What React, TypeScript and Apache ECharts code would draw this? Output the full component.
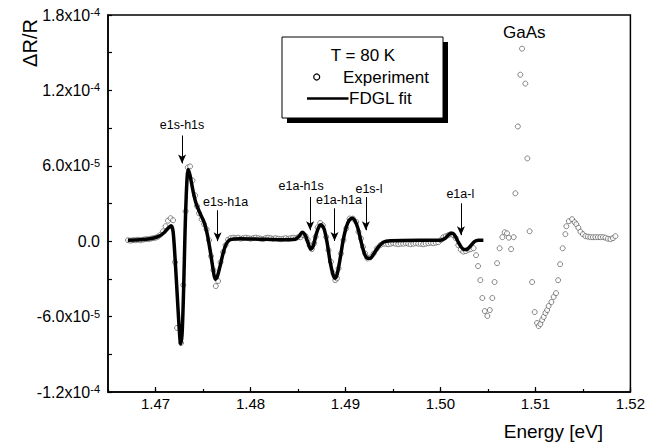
import React, { useEffect, useRef } from "react";
import * as echarts from "echarts";

// Experiment (open circles): photon energy [eV] and ΔR/R in units of 1e-5
const expEnergy = [
  1.46711, 1.46737, 1.46763, 1.4679, 1.46816, 1.46842, 1.46869, 1.46895, 1.46921, 1.46948, 1.46974, 1.47001, 1.47027, 1.47053, 1.4708, 1.47106, 1.47132, 1.47159, 1.47185, 1.47206, 1.47227, 1.47269, 1.47293, 1.47317, 1.4734, 1.47364, 1.4739, 1.47417, 1.47438, 1.47459, 1.47485, 1.47512, 1.47538, 1.47564, 1.47585, 1.4761, 1.47635, 1.47659, 1.47685, 1.47712, 1.47738, 1.47764, 1.47791, 1.47817,
  1.47843, 1.4787, 1.47896, 1.47922, 1.47949, 1.47975, 1.48001, 1.48028, 1.48054, 1.4808, 1.48107, 1.48133, 1.4816, 1.48186, 1.48212, 1.48239, 1.48265, 1.48291, 1.48318, 1.48344, 1.4837, 1.48397, 1.48423, 1.48449, 1.48476, 1.48502,
  1.48528, 1.48555, 1.48581, 1.48602, 1.48623, 1.48646, 1.48671, 1.48686, 1.48708, 1.48734, 1.48762, 1.48797, 1.48821, 1.48847, 1.48874, 1.48892, 1.4891, 1.48927, 1.48952, 1.48979, 1.49008, 1.49043, 1.49078, 1.49113, 1.49137, 1.49163, 1.49184, 1.49208, 1.49232, 1.49261, 1.49296, 1.49331, 1.49366, 1.49398,
  1.49424, 1.4945, 1.49477, 1.49503, 1.49529, 1.49556, 1.49582, 1.49608, 1.49635, 1.49661, 1.49687, 1.49714, 1.4974, 1.49766, 1.49793, 1.49819, 1.49845, 1.49872, 1.49898, 1.49924, 1.49951, 1.49977,
  1.50003, 1.5003, 1.50056, 1.50082, 1.50109, 1.50135, 1.50161, 1.50188, 1.50214, 1.5024, 1.50267, 1.50293, 1.50319,
  1.50349, 1.50375, 1.50396, 1.5042, 1.50441, 1.50467, 1.50494, 1.5052, 1.50546, 1.5057, 1.50596, 1.50623, 1.50652, 1.50676, 1.50701, 1.5072, 1.50744, 1.50771, 1.50789, 1.50815, 1.50841, 1.50859, 1.50894, 1.50915, 1.50939, 1.50965, 1.50992, 1.51017, 1.51034, 1.51052, 1.5107, 1.51087, 1.51105, 1.51123, 1.51139, 1.51168, 1.51192, 1.51217, 1.51239, 1.5126, 1.51287, 1.51315, 1.51326, 1.51352, 1.51386, 1.51413, 1.51431, 1.51452, 1.51474, 1.515, 1.51526, 1.51553, 1.51579, 1.51605, 1.51632, 1.51658, 1.51684, 1.51711, 1.51737, 1.51763, 1.5179, 1.51816, 1.51842,
];
const expSignal = [
  0.08, 0.04, 0.08, 0.08, 0.12, 0.08, 0.12, 0.16, 0.16, 0.2, 0.24, 0.28, 0.36, 0.52, 0.79, 1.19, 1.63, 1.83, 1.67, -1.67, -6.9, -8.1, -3.49, 2.38, 5.87, 5.95, 4.84, 3.65, 2.78, 2.22, 1.75, 1.35, 0.95, 0.08, -1.19, -2.3, -3.57, -3.17, -1.67, -0.87, -0.32, 0.12, 0.24, 0.28,
  0.24, 0.28, 0.2, 0.24, 0.28, 0.24, 0.2, 0.24, 0.28, 0.24, 0.2, 0.16, 0.24, 0.28, 0.24, 0.2, 0.24, 0.2, 0.16, 0.2, 0.24, 0.2, 0.24, 0.28, 0.24, 0.32,
  0.32, 0.48, 0.4, 0.12, -0.32, -0.63, -0.16, 0.36, 1.11, 1.45, 1.27, 0.34, -0.71, -1.64, -2.56, -3.1, -2.96, -2.17, -0.98, 0.08, 1.01, 1.8, 1.8, 1.53, 0.74, 0.21, -0.45, -0.98, -1.37, -1.29, -0.98, -0.58, -0.32, -0.2,
  -0.2, -0.24, -0.2, -0.16, -0.2, -0.24, -0.2, -0.2, -0.16, -0.2, -0.24, -0.2, -0.16, -0.2, -0.2, -0.24, -0.2, -0.16, -0.12, -0.16, -0.12, -0.08,
  0.08, 0.32, 0.4, 0.48, 0.56, 0.48, 0.24, -0.32, -0.67, -0.83, -0.79, -0.67, -0.63,
  -0.56, -1.11, -1.98, -3.1, -4.52, -5.56, -5.95, -5.48, -4.52, -3.25, -1.75, -0.56, 0.32, 0.71, 0.63, 0.28, -0.63, 0.32, 3.81, 9.13, 13.25, 15.32, 12.54, 6.59, 0.79, -3.25, -5.64, -6.51, -6.75, -6.59, -6.27, -6.03, -5.71, -5.48, -5.16, -4.84, -4.44, -4.13, -3.1, -1.83, -0.56, 0.56, 1.19, 1.59, 1.75, 1.51, 1.35, 1.07, 0.75, 0.56, 0.4, 0.36, 0.32, 0.32, 0.32, 0.32, 0.32, 0.32, 0.28, 0.2, 0.16, 0.24, 0.4,
];

// FDGL fit (thick line): energy [eV] and ΔR/R in units of 1e-5
const fitEnergy = [
  1.46711, 1.46837, 1.46943, 1.47027, 1.4709, 1.47132, 1.47164, 1.47185, 1.47206, 1.47227, 1.47248, 1.47264, 1.4728, 1.47296, 1.47311, 1.47327, 1.47343, 1.47364, 1.47396, 1.47427, 1.47469, 1.47512, 1.47543, 1.47575, 1.47606, 1.47628, 1.47649, 1.4768, 1.47712, 1.47743, 1.47786, 1.47891, 1.48102, 1.48312, 1.48471, 1.48513, 1.48544, 1.48576, 1.48607, 1.48634, 1.4866, 1.48692, 1.48723, 1.48744, 1.48776, 1.48808, 1.48839, 1.48871, 1.48892, 1.48913, 1.48945, 1.48976, 1.49008, 1.49039, 1.49071, 1.49103, 1.49134, 1.49166, 1.49198, 1.49229, 1.49261, 1.49303, 1.49345, 1.49398, 1.49472, 1.49788, 1.49998, 1.50051, 1.50093, 1.50125, 1.50156, 1.50188, 1.5022, 1.50251, 1.50283, 1.50314, 1.50357, 1.50399, 1.50452,
];
const fitSignal = [
  0.08, 0.12, 0.2, 0.36, 0.67, 1.03, 1.23, 0.79, -1.35, -4.05, -6.75, -8.17, -7.38, -3.89, 0.71, 4.21, 5.71, 5.24, 3.97, 3.02, 2.22, 1.51, 0.63, -0.71, -2.22, -3.02, -2.86, -1.98, -0.95, -0.24, 0.12, 0.2, 0.16, 0.12, 0.16, 0.4, 0.71, 0.48, -0.16, -0.63, -0.4, 0.56, 1.19, 1.31, 0.95, -0.16, -1.67, -2.7, -2.94, -2.62, -1.35, 0.08, 1.11, 1.67, 1.83, 1.59, 0.95, -0.08, -0.95, -1.35, -1.35, -0.95, -0.48, -0.08, 0.04, 0.08, 0.08, 0.24, 0.56, 0.63, 0.4, -0.08, -0.48, -0.67, -0.63, -0.4, -0.04, 0.08, 0.08,
];

// Axis ticks
const xLabelTicks = [1.47, 1.48, 1.49, 1.5, 1.51, 1.52];
const yLabelValues = [-12, -6, 0, 6, 12, 18];
const yLabelMantissa = ["-1.2x10", "-6.0x10", "0.0", "6.0x10", "1.2x10", "1.8x10"];
const yLabelExponent = ["-4", "-5", "", "-5", "-4", "-4"];

// Transition annotations
const annotLabels = ["e1s-h1s", "e1s-h1a", "e1a-h1s", "e1a-h1a", "e1s-l", "e1a-l"];
const annotArrowEnergy = [1.4728, 1.47654, 1.48628, 1.48885, 1.49215, 1.50216];
const annotArrowTop = [8.41, 2.46, 3.52, 2.62, 3.52, 3.02];
const annotArrowTip = [6.19, 0.0, 0.87, 0.02, 0.87, 0.48];
const annotTextEnergy = [1.4728, 1.47738, 1.48534, 1.48931, 1.49248, 1.50209];
const annotTextSignal = [9.21, 3.12, 4.39, 3.31, 4.18, 3.79];

const FONT = "'Liberation Sans', Arial, sans-serif";

export default function App() {
  const ref = useRef<HTMLDivElement>(null);

  useEffect(() => {
    if (!ref.current) return;
    const chart = echarts.init(ref.current, undefined, { renderer: "svg" });

    const expData = expEnergy
      .slice(0, Math.min(expEnergy.length, expSignal.length))
      .map((x, i) => [x, expSignal[i]]);
    const fitData = fitEnergy
      .slice(0, Math.min(fitEnergy.length, fitSignal.length))
      .map((x, i) => [x, fitSignal[i]]);

    const arrowLines = annotLabels.map((_, i) => [
      { coord: [annotArrowEnergy[i], annotArrowTop[i]] },
      { coord: [annotArrowEnergy[i], annotArrowTip[i]] },
    ]);
    const annotPoints: any[] = annotLabels.map((name, i) => ({
      name,
      coord: [annotTextEnergy[i], annotTextSignal[i]],
    }));
    annotPoints.push({
      name: "GaAs",
      coord: [1.50883, 16.6],
      label: { fontSize: 17 },
    });

    const yFormatter = (v: number) => {
      const i = yLabelValues.findIndex((t) => Math.abs(t - v) < 1e-6);
      if (i < 0) return "";
      return yLabelExponent[i]
        ? `{m|${yLabelMantissa[i]}}{e|${yLabelExponent[i]}}`
        : `{m|${yLabelMantissa[i]}}`;
    };
    const xFormatter = (v: number) => {
      const hit = xLabelTicks.find((t) => Math.abs(t - v) < 1e-7);
      return hit === undefined ? "" : hit.toFixed(2);
    };

    chart.setOption({
      animation: false,
      backgroundColor: "#fff",
      textStyle: { fontFamily: FONT },
      grid: {
        left: 108,
        right: 17,
        top: 15,
        bottom: 53,
        show: true,
        borderColor: "#000",
        borderWidth: 1.5,
        backgroundColor: "transparent",
      },
      xAxis: [
        {
          type: "value",
          min: 1.465,
          max: 1.52,
          interval: 0.005,
          axisLine: { show: true, onZero: false, lineStyle: { color: "#000", width: 1.5 } },
          axisTick: { show: true, inside: true, length: 3, lineStyle: { color: "#000", width: 1.2 } },
          axisLabel: {
            formatter: xFormatter,
            color: "#000",
            fontSize: 15,
            fontFamily: FONT,
            margin: 4,
            showMinLabel: true,
            showMaxLabel: true,
          },
          splitLine: { show: false },
        },
        {
          type: "value",
          min: 1.465,
          max: 1.52,
          position: "bottom",
          axisLine: { show: false, onZero: false },
          axisLabel: { show: false },
          axisTick: {
            show: true,
            inside: true,
            length: 5,
            customValues: xLabelTicks,
            lineStyle: { color: "#000", width: 1.2 },
          },
          splitLine: { show: false },
        },
      ],
      yAxis: {
        type: "value",
        min: -12,
        max: 18,
        interval: 3,
        axisLine: { show: true, onZero: false, lineStyle: { color: "#000", width: 1.5 } },
        axisTick: { show: true, inside: true, length: 4, lineStyle: { color: "#000", width: 1.2 } },
        axisLabel: {
          formatter: yFormatter,
          margin: 8,
          showMinLabel: true,
          showMaxLabel: true,
          rich: {
            m: { fontSize: 16, fontFamily: FONT, color: "#000", lineHeight: 17 },
            e: { fontSize: 11, fontFamily: FONT, color: "#000", verticalAlign: "top", lineHeight: 11 },
          },
        },
        splitLine: { show: false },
      },
      series: [
        {
          type: "scatter",
          data: expData,
          symbol: "circle",
          symbolSize: 5,
          itemStyle: { color: "#fff", borderColor: "#444", borderWidth: 0.8 },
          z: 2,
          silent: true,
        },
        {
          type: "line",
          data: fitData,
          showSymbol: false,
          smooth: 0.25,
          lineStyle: { color: "#000", width: 3.5 },
          z: 3,
          silent: true,
          markLine: {
            silent: true,
            symbol: ["none", "arrow"],
            symbolSize: [6, 9],
            label: { show: false },
            lineStyle: { color: "#000", width: 1, type: "solid" },
            data: arrowLines,
          },
          markPoint: {
            silent: true,
            symbol: "circle",
            symbolSize: 1,
            itemStyle: { color: "rgba(0,0,0,0)" },
            label: {
              show: true,
              position: "inside",
              formatter: "{b}",
              color: "#000",
              fontSize: 12.5,
              fontFamily: FONT,
            },
            data: annotPoints,
          },
        },
      ],
      graphic: [
        { type: "rect", shape: { x: 287, y: 42, width: 161, height: 81 }, style: { fill: "#000" } },
        {
          type: "rect",
          shape: { x: 282, y: 37, width: 161, height: 81 },
          style: { fill: "#fff", stroke: "#000", lineWidth: 1 },
        },
        {
          type: "text",
          x: 363,
          y: 55,
          style: { text: "T = 80 K", fontSize: 17, fontFamily: FONT, fill: "#000", align: "center", verticalAlign: "middle" },
        },
        {
          type: "circle",
          shape: { cx: 316.7, cy: 77, r: 3 },
          style: { fill: "#fff", stroke: "#000", lineWidth: 1.2 },
        },
        {
          type: "text",
          x: 343,
          y: 77,
          style: { text: "Experiment", fontSize: 17, fontFamily: FONT, fill: "#000", align: "left", verticalAlign: "middle" },
        },
        {
          type: "line",
          shape: { x1: 307, y1: 98.5, x2: 348.5, y2: 98.5 },
          style: { stroke: "#000", lineWidth: 2.5 },
        },
        {
          type: "text",
          x: 349,
          y: 98,
          style: { text: "FDGL fit", fontSize: 17, fontFamily: FONT, fill: "#000", align: "left", verticalAlign: "middle" },
        },
        {
          type: "text",
          x: 603,
          y: 431,
          style: { text: "Energy [eV]", fontSize: 19, fontFamily: FONT, fill: "#000", align: "right", verticalAlign: "middle" },
        },
        {
          type: "text",
          x: 30,
          y: 43,
          rotation: Math.PI / 2,
          style: { text: "ΔR/R", fontSize: 20, fontFamily: FONT, fill: "#000", align: "center", verticalAlign: "middle" },
        },
      ],
    });

    return () => chart.dispose();
  }, []);

  return (
    <div
      ref={ref}
      style={{ position: "absolute", left: 0, top: 0, width: 648, height: 445, background: "#fff" }}
    />
  );
}
